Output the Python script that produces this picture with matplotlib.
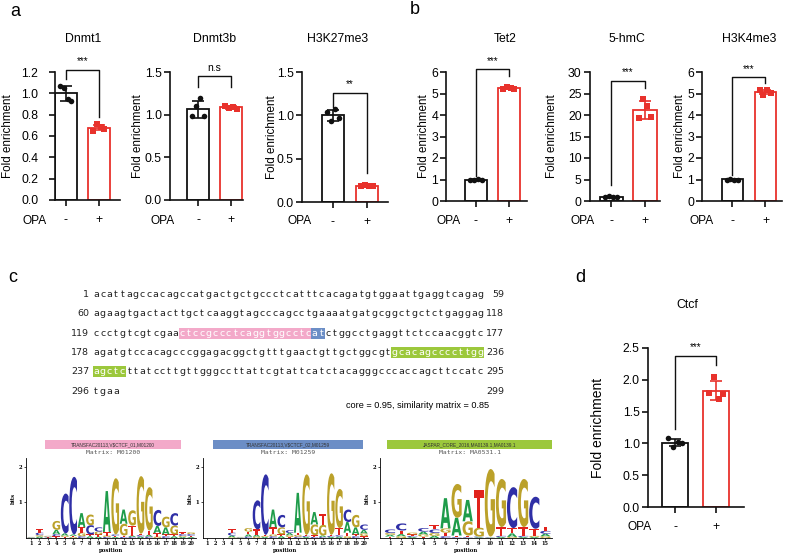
import numpy as np
import matplotlib
matplotlib.use('Agg')
import matplotlib.pyplot as plt
from matplotlib.patches import Rectangle, PathPatch
from matplotlib.textpath import TextPath
from matplotlib.font_manager import FontProperties
from matplotlib.transforms import Affine2D

plt.rcParams['font.family'] = ['Liberation Sans', 'DejaVu Sans']

# ---------------- data ----------------
groups = ['-', '+']

dnmt1_ctrl = [1.07, 1.05, 0.95, 0.93]
dnmt1_opa = [0.65, 0.71, 0.68, 0.67]
dnmt3b_ctrl = [0.98, 1.10, 1.19, 0.98]
dnmt3b_opa = [1.10, 1.08, 1.09, 1.07]
h3k27_ctrl = [1.04, 0.93, 1.07, 0.97]
h3k27_opa = [0.19, 0.20, 0.19, 0.18]
tet2_ctrl = [0.97, 1.00, 1.01, 1.00]
tet2_opa = [5.22, 5.30, 5.24, 5.22]
hmc_ctrl = [0.95, 1.05, 1.00, 1.00]
hmc_opa = [19.3, 23.8, 22.0, 19.5]
h3k4_ctrl = [1.00, 1.01, 1.00, 1.00]
h3k4_opa = [5.17, 4.95, 5.15, 5.02]
ctcf_ctrl = [1.085, 0.95, 1.02, 1.00]
ctcf_opa = [1.80, 2.04, 1.70, 1.78]

seq_lines = [
    "acattagccacagccatgactgctgccctcatttcacagatgtggaattgaggtcagag",
    "agaagtgactacttgctcaaggtagcccagcctgaaaatgatgcggctgctctgaggag",
    "ccctgtcgtcgaactccgccctcaggtggcctcatctggcctgaggttctccaacggtc",
    "agatgtccacagcccggagacggctgtttgaactgttgctggcgtgcacagccccttgg",
    "agctcttatccttgttgggccttattcgtattcatctacagggcccaccagcttccatc",
    "tgaa",
]
seq_starts = [1, 60, 119, 178, 237, 296]
seq_ends = [59, 118, 177, 236, 295, 299]
# (line, first char index, length, colour name)
seq_highlights = [(2, 13, 20, 'pink'), (2, 33, 2, 'blue'), (3, 45, 14, 'green'), (4, 0, 5, 'green')]

logo1_A = [0.01, 0.04, 0.01, 0.12, 0.06, 0.04, 0.40, 0.05, 0.04, 1.15, 0.03, 0.40, 0.04, 0.04, 0.05, 0.20, 0.20, 0.05, 0.03, 0.03]
logo1_C = [0.01, 0.07, 0.02, 0.06, 1.12, 1.62, 0.05, 0.26, 0.12, 0.03, 0.04, 0.03, 0.03, 0.04, 0.04, 0.45, 0.05, 0.35, 0.05, 0.05]
logo1_G = [0.01, 0.04, 0.02, 0.25, 0.04, 0.03, 0.10, 0.30, 0.08, 0.04, 1.58, 0.33, 0.43, 1.62, 1.22, 0.04, 0.30, 0.25, 0.03, 0.05]
logo1_T = [0.01, 0.11, 0.01, 0.05, 0.03, 0.03, 0.15, 0.05, 0.06, 0.10, 0.03, 0.04, 0.28, 0.04, 0.12, 0.10, 0.05, 0.05, 0.05, 0.03]

logo2_A = [0.0, 0.0, 0.0, 0.05, 0.01, 0.06, 0.05, 0.03, 0.50, 0.05, 0.06, 1.12, 0.03, 0.35, 0.04, 0.03, 0.04, 0.30, 0.20, 0.10]
logo2_C = [0.0, 0.0, 0.0, 0.08, 0.01, 0.04, 0.82, 1.70, 0.05, 0.35, 0.08, 0.04, 0.03, 0.03, 0.03, 0.03, 0.04, 0.35, 0.05, 0.15]
logo2_G = [0.0, 0.0, 0.0, 0.02, 0.01, 0.10, 0.04, 0.03, 0.05, 0.20, 0.05, 0.05, 1.70, 0.30, 0.30, 1.73, 1.10, 0.05, 0.35, 0.08]
logo2_T = [0.0, 0.0, 0.0, 0.10, 0.01, 0.08, 0.15, 0.03, 0.20, 0.05, 0.03, 0.06, 0.03, 0.05, 0.30, 0.03, 0.20, 0.10, 0.05, 0.05]

logo3_A = [0.05, 0.06, 0.03, 0.08, 0.06, 0.85, 0.50, 0.60, 0.02, 0.01, 0.03, 0.10, 0.03, 0.03, 0.07]
logo3_C = [0.10, 0.20, 0.03, 0.10, 0.10, 0.05, 0.02, 0.02, 0.02, 0.01, 0.03, 1.15, 0.03, 0.90, 0.08]
logo3_G = [0.05, 0.05, 0.05, 0.06, 0.08, 0.12, 0.95, 0.40, 0.25, 1.90, 1.35, 0.03, 1.35, 0.03, 0.05]
logo3_T = [0.04, 0.10, 0.04, 0.04, 0.13, 0.10, 0.05, 0.05, 1.05, 0.02, 0.25, 0.15, 0.25, 0.20, 0.12]

logo_headers = ['TRANSFAC20113,V$CTCF_01,M01200', 'TRANSFAC20113,V$CTCF_02,M01259',
                'JASPAR_CORE_2016,MA0139.1,MA0139.1']
logo_matrix = ['Matrix: M01200', 'Matrix: M01259', 'Matrix: MA0531.1']

# ---------------- figure ----------------
W, H = 788, 554
fig = plt.figure(figsize=(W / 100, H / 100), dpi=100)
RED = '#e8322c'
BLACK = '#111111'


def fx(x):
    return x / W


def fy(y):
    return 1 - y / H


def add_ax(l, r, t, b):
    return fig.add_axes([fx(l), fy(b), (r - l) / W, (b - t) / H])


def ftext(x, y, s, **kw):
    return fig.text(fx(x), fy(y), s, **kw)


def bar_panel(box, xlim, ctrl, opa, ylim, yticks, yfmt, title, title_xy, opa_xy, ylab_x,
              br_top, br_left, br_right, star, width=0.65, ylab_fs=8.4, ypad=2):
    ax = add_ax(*box)
    l, r, t, b = box
    vals = [np.array(ctrl), np.array(opa)]
    means = [v.mean() for v in vals]
    sds = [v.std(ddof=1) for v in vals]
    cols = [BLACK, RED]
    ax.bar([0, 1], means, width=width, facecolor='white', edgecolor=cols, linewidth=1.3, zorder=2)
    jit = np.array([-0.17, -0.06, 0.06, 0.17])
    for i in range(2):
        ax.errorbar(i, means[i], yerr=sds[i], color=cols[i], capsize=4.2, elinewidth=1.2,
                    capthick=1.2, zorder=3, clip_on=False)
        ax.scatter(i + jit, vals[i], s=16, marker='o' if i == 0 else 's', color=cols[i],
                   zorder=4, clip_on=False, linewidths=0)
    ax.set_xlim(*xlim)
    ax.set_ylim(*ylim)
    ax.set_yticks(yticks)
    ax.set_yticklabels([yfmt.format(t) for t in yticks])
    ax.set_xticks([0, 1])
    ax.set_xticklabels(groups)
    for s in ['top', 'right']:
        ax.spines[s].set_visible(False)
    for s in ['left', 'bottom']:
        ax.spines[s].set_linewidth(1.2)
        ax.spines[s].set_color(BLACK)
    ax.tick_params(axis='both', length=4, width=1.2, labelsize=8.8, color=BLACK)
    ax.tick_params(axis='x', pad=6)
    ax.tick_params(axis='y', pad=ypad)
    ax.set_ylabel('Fold enrichment', fontsize=ylab_fs)
    ax.yaxis.set_label_coords((ylab_x - l) / (r - l), 0.5)
    ax.yaxis.label.set_va('center')
    ax.plot([0, 0, 1, 1], [br_left, br_top, br_top, br_right], color=BLACK, lw=1.0, clip_on=False)
    ax.annotate(star, (0.5, br_top), xytext=(0, 2.5), textcoords='offset points', ha='center',
                va='bottom', fontsize=7 if star != 'n.s' else 7.5, annotation_clip=False)
    ftext(*title_xy, title, ha='center', va='center', fontsize=8.8)
    ftext(*opa_xy, 'OPA', ha='center', va='center', fontsize=8.6)
    return ax


# panel a
bar_panel((55, 120, 72, 200), (-0.33, 1.64), dnmt1_ctrl, dnmt1_opa, (0, 1.2),
          [0, 0.2, 0.4, 0.6, 0.8, 1.0, 1.2], '{:.1f}', 'Dnmt1', (83, 39), (35, 221), 8,
          1.22, 1.13, 0.78, '***', ypad=8)
bar_panel((170, 243, 72, 200), (-0.85, 1.36), dnmt3b_ctrl, dnmt3b_opa, (0, 1.5),
          [0, 0.5, 1.0, 1.5], '{:.1f}', 'Dnmt3b', (215, 39), (163, 221), 138,
          1.45, 1.33, 1.33, 'n.s')
bar_panel((302, 388, 72, 202), (-0.91, 1.62), h3k27_ctrl, h3k27_opa, (0, 1.5),
          [0, 0.5, 1.0, 1.5], '{:.1f}', 'H3K27me3', (338, 39), (300, 221), 272,
          1.26, 1.10, 0.33, '**')
# panel b
bar_panel((446, 527, 72, 201), (-0.91, 1.55), tet2_ctrl, tet2_opa, (0, 6),
          [0, 1, 2, 3, 4, 5, 6], '{:.0f}', 'Tet2', (505, 39), (449, 221), 424,
          6.12, 1.17, 5.83, '***', ypad=1.5)
bar_panel((590, 660, 72, 201), (-0.62, 1.44), hmc_ctrl, hmc_opa, (0, 30),
          [0, 5, 10, 15, 20, 25, 30], '{:.0f}', '5-hmC', (627, 39), (583, 221), 552,
          28.0, 3.7, 26.3, '***', width=0.68)
bar_panel((702, 782, 72, 201), (-0.92, 1.50), h3k4_ctrl, h3k4_opa, (0, 6),
          [0, 1, 2, 3, 4, 5, 6], '{:.0f}', 'H3K4me3', (749, 39), (702, 221), 680,
          5.75, 1.20, 5.48, '***', ypad=1.5)
# panel d
bar_panel((648, 744, 348, 507), (-0.66, 1.68), ctcf_ctrl, ctcf_opa, (0, 2.5),
          [0, 0.5, 1.0, 1.5, 2.0, 2.5], '{:.1f}', 'Ctcf', (687, 305), (640, 527), 598,
          2.38, 1.22, 2.24, '***', ylab_fs=10)

# panel labels
for lab, x, y in [('a', 15, 11), ('b', 415, 9), ('c', 13, 278), ('d', 580, 277)]:
    ftext(x, y, lab, ha='center', va='center', fontsize=13)

# ---------------- panel c: sequence ----------------
hl_colors = {'pink': '#f3a9c9', 'blue': '#6c8ec6', 'green': '#9cc83c'}
line_y = [294, 313, 333, 352, 371, 391]
x0, dx = 96, 6.63
seq_fs = 6.8
for li, s in enumerate(seq_lines):
    yb = line_y[li] + 2.8
    colored = {}
    for (l, st, n, c) in seq_highlights:
        if l == li:
            fig.patches.append(Rectangle((fx(x0 + st * dx - dx / 2), fy(line_y[li] + 5.5)),
                                         n * dx / W, 11 / H, transform=fig.transFigure,
                                         facecolor=hl_colors[c], edgecolor='none', zorder=0))
            for k in range(st, st + n):
                colored[k] = 'white'
    for i, ch in enumerate(s):
        ftext(x0 + i * dx, yb, ch, ha='center', va='baseline', fontsize=seq_fs,
              color=colored.get(i, '#222222'), family='DejaVu Sans')
    ftext(89, yb, str(seq_starts[li]), ha='right', va='baseline', fontsize=seq_fs,
          color='#222222', family='DejaVu Sans')
    ftext(504, yb, str(seq_ends[li]), ha='right', va='baseline', fontsize=seq_fs,
          color='#222222', family='DejaVu Sans')

ftext(418, 406, 'core = 0.95, similarity matrix = 0.85', ha='center', va='center', fontsize=6.6)

# ---------------- logos ----------------
logo_cols = {'A': '#1e9c4a', 'C': '#2f2fa6', 'G': '#bba12a', 'T': '#e1231c'}
fp_logo = FontProperties(family='DejaVu Sans', weight='bold')
letter_paths = {}
for ch in 'ACGT':
    tp = TextPath((0, 0), ch, size=1, prop=fp_logo)
    letter_paths[ch] = tp


def letter_patch(ch, xc, y, w, h):
    tp = letter_paths[ch]
    bb = tp.get_extents()
    t = Affine2D().translate(-bb.x0, -bb.y0).scale(w / bb.width, h / bb.height).translate(xc - w / 2, y)
    return PathPatch(t.transform_path(tp), facecolor=logo_cols[ch], edgecolor='none', zorder=3)


def draw_logo(box, xlim, A, C, G, T, header_box, header, hcolor, matrix):
    ax = add_ax(*box)
    n = len(A)
    for i in range(n):
        hs = sorted([('A', A[i]), ('C', C[i]), ('G', G[i]), ('T', T[i])], key=lambda t: t[1])
        y = 0
        for ch, h in hs:
            if h > 0.004:
                ax.add_patch(letter_patch(ch, i + 1, y, 0.92, h))
            y += h
    ax.set_xlim(*xlim)
    ax.set_ylim(0, 2.25)
    ax.set_xticks(range(1, n + 1))
    ax.set_xticklabels([str(k) for k in range(1, n + 1)], fontsize=3.6, family='DejaVu Serif',
                       fontweight='bold')
    ax.set_yticks([1, 2])
    ax.set_yticklabels(['1', '2'], fontsize=3.8, family='DejaVu Serif', fontweight='bold')
    ax.tick_params(length=1.5, width=0.5, pad=1)
    for s in ['top', 'right']:
        ax.spines[s].set_visible(False)
    for s in ['left', 'bottom']:
        ax.spines[s].set_linewidth(0.6)
    ax.set_xlabel('position', fontsize=3.8, family='DejaVu Serif', fontweight='bold', labelpad=1)
    ax.set_ylabel('bits', fontsize=3.8, family='DejaVu Serif', fontweight='bold', labelpad=2)
    l, r, t, b = header_box
    ftext((l + r) / 2, 453, matrix, ha='center', va='center', fontsize=4.6, color='#555555',
          family='DejaVu Sans Mono', zorder=1)
    fig.patches.append(Rectangle((fx(l), fy(b)), (r - l) / W, (b - t) / H, transform=fig.transFigure,
                                 facecolor=hcolor, edgecolor='none', zorder=2))
    ftext((l + r) / 2, (t + b) / 2, header, ha='center', va='center', fontsize=3.4, color='#333333',
          zorder=3, parse_math=False)
    return ax


draw_logo((26, 196, 458, 538), (0.4, 20.6), logo1_A, logo1_C, logo1_G, logo1_T,
          (45, 181, 440, 449), logo_headers[0], '#f3a9c9', logo_matrix[0])
draw_logo((203, 368, 458, 538), (0.52, 20.5), logo2_A, logo2_C, logo2_G, logo2_T,
          (213, 363, 440, 449), logo_headers[1], '#6c8ec6', logo_matrix[1])
draw_logo((380, 552, 458, 538), (0.1, 15.6), logo3_A, logo3_C, logo3_G, logo3_T,
          (387, 552, 440, 449), logo_headers[2], '#9cc83c', logo_matrix[2])

fig.savefig('out.png', dpi=100)
